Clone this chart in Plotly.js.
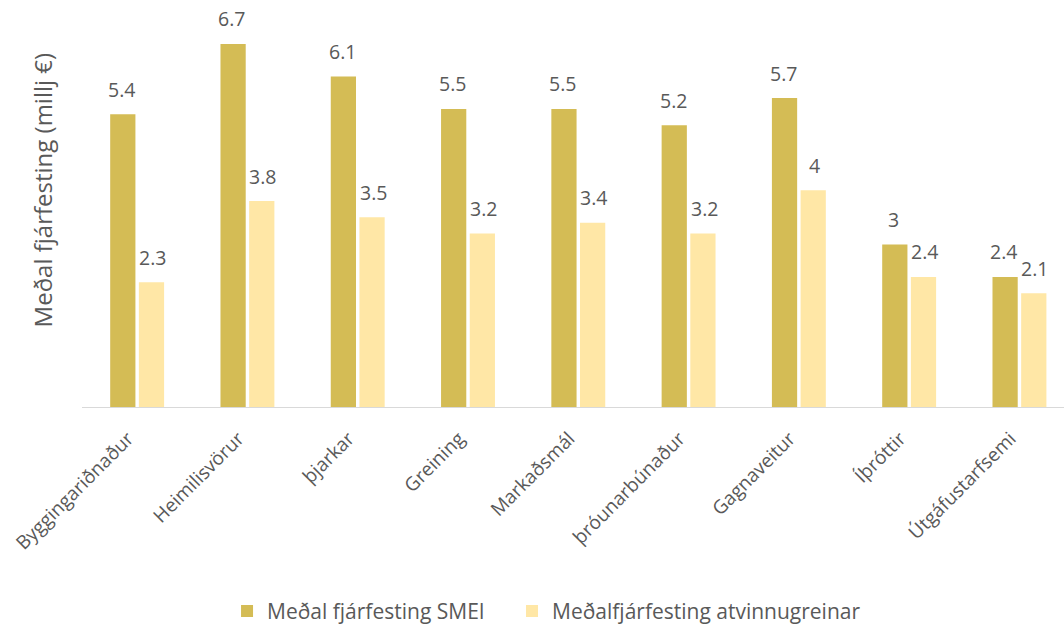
<!DOCTYPE html>
<html>
<head>
<meta charset="utf-8">
<script src="https://cdn.plot.ly/plotly-3.0.1.min.js"></script>
<style>
  html, body { margin: 0; padding: 0; background: #fff; }
  #chart { width: 1064px; height: 625px; }
</style>
</head>
<body>
<div id="chart"></div>
<script>
// categories and values
const categories = ['Byggingariðnaður', 'Heimilisvörur', 'þjarkar', 'Greining', 'Markaðsmál',
  'þróunarbúnaður', 'Gagnaveitur', 'Íþróttir', 'Útgáfustarfsemi'];
const smeiValues = [5.4, 6.7, 6.1, 5.5, 5.5, 5.2, 5.7, 3, 2.4];
const sectorValues = [2.3, 3.8, 3.5, 3.2, 3.4, 3.2, 4, 2.4, 2.1];
const seriesNames = ['Meðal fjárfesting SMEI', 'Meðalfjárfesting atvinnugreinar'];

const fontFamily = '"Open Sans", "Noto Sans", sans-serif';
const textColor = '#595959';

const traces = [
  { type: 'bar', name: seriesNames[0], x: categories, y: smeiValues,
    marker: { color: '#d4bc55' }, hoverinfo: 'y', legend: 'legend' },
  { type: 'bar', name: seriesNames[1], x: categories, y: sectorValues,
    marker: { color: '#ffe7a6' }, hoverinfo: 'y', legend: 'legend2' }
];

// data labels sit well above the bars, so draw them as annotations
const annotations = [];
function addLabels(values, shift) {
  values.forEach((v, i) => {
    annotations.push({
      x: categories[i], y: v, xref: 'x', yref: 'y',
      text: String(v), showarrow: false,
      xshift: shift, yshift: 25,
      font: { family: fontFamily, size: 19.5, color: textColor }
    });
  });
}
addLabels(smeiValues, -15.5);
addLabels(sectorValues, 15.5);

// y axis title
annotations.push({
  xref: 'paper', yref: 'paper', x: -0.04, y: 0.534,
  xanchor: 'center', yanchor: 'middle', textangle: -90,
  text: 'Meðal fjárfesting (millj €)', showarrow: false,
  font: { family: fontFamily, size: 24, color: textColor }
});

// one legend per series so the gap between the entries can be set
const legendStyle = {
  orientation: 'h', xanchor: 'left', y: -0.502, yanchor: 'middle',
  font: { family: fontFamily, size: 21, color: textColor },
  itemwidth: 30
};

const layout = {
  width: 1064, height: 625,
  margin: { l: 82, r: 0, t: 0, b: 218, autoexpand: false },
  paper_bgcolor: '#ffffff', plot_bgcolor: '#ffffff',
  font: { family: fontFamily, color: textColor },
  barmode: 'group', bargap: 0.48, bargroupgap: 0.12,
  xaxis: {
    range: [-0.5, 8.404],
    tickangle: -45,
    tickfont: { family: fontFamily, size: 19, color: textColor },
    ticklabelstandoff: 12,
    ticklabelshift: -9,
    showline: true, linecolor: '#d9d9d9', linewidth: 1,
    showgrid: false, ticks: ''
  },
  yaxis: {
    range: [0, 7.51],
    showticklabels: false, showgrid: false, zeroline: false, showline: false
  },
  showlegend: true,
  legend: Object.assign({}, legendStyle, { x: 0.1477 }),
  legend2: Object.assign({}, legendStyle, { x: 0.4379 }),
  annotations: annotations
};

Plotly.newPlot('chart', traces, layout, { displayModeBar: false, staticPlot: true });
</script>
</body>
</html>
